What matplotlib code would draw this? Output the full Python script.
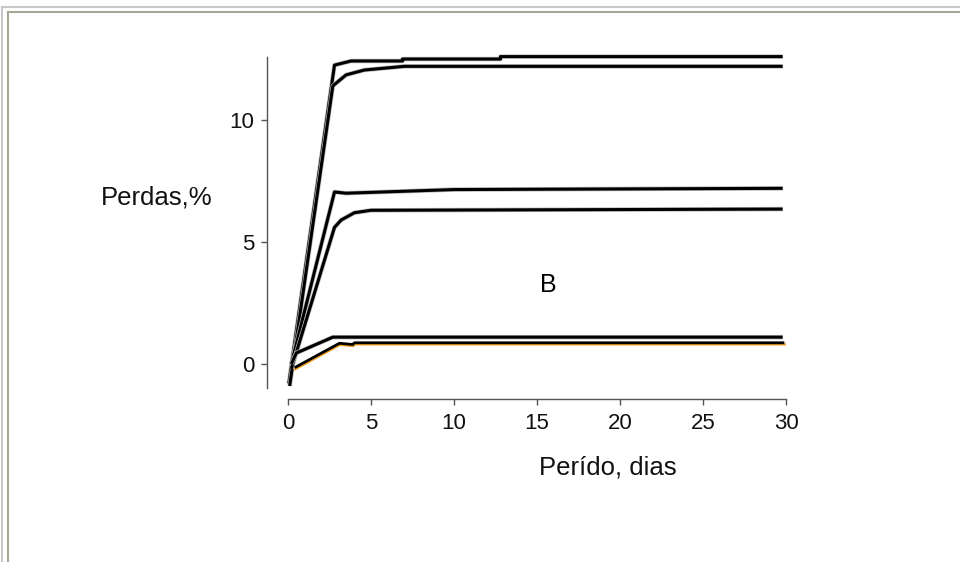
import matplotlib
matplotlib.use("Agg")
import matplotlib.pyplot as plt
import matplotlib.patheffects as pe
from matplotlib.transforms import offset_copy
from matplotlib.lines import Line2D

plt.rcParams['font.family'] = ['Liberation Sans', 'DejaVu Sans']

# curves (dias, perdas %)
x_a = [0.05, 2.8, 3.8, 6.9, 6.9, 12.8, 12.8, 29.8]
y_a = [-0.8, 12.25, 12.42, 12.42, 12.5, 12.5, 12.6, 12.6]

x_b = [0.1, 2.7, 3.5, 4.6, 7.0, 29.8]
y_b = [-0.9, 11.4, 11.85, 12.05, 12.2, 12.2]

x_c = [0.2, 2.8, 3.5, 10.0, 29.8]
y_c = [0.0, 7.05, 7.0, 7.15, 7.2]

x_d = [0.2, 2.8, 3.2, 4.0, 5.0, 29.8]
y_d = [-0.2, 5.6, 5.9, 6.2, 6.3, 6.35]

x_e = [0.2, 0.5, 2.7, 29.8]
y_e = [0.0, 0.45, 1.1, 1.1]

x_f = [0.4, 3.1, 3.9, 4.0, 29.9]
y_f = [-0.15, 0.85, 0.8, 0.87, 0.87]

xticks = [0, 5, 10, 15, 20, 25, 30]
yticks = [0, 5, 10]

fig = plt.figure(figsize=(9.6, 5.62), dpi=100)
ax = fig.add_axes([0.3, 0.3089, 0.51875, 0.5904])

halo = [pe.Stroke(linewidth=3.2, foreground='#b8b8b8'), pe.Normal()]
for xs, ys in [(x_a, y_a), (x_b, y_b), (x_c, y_c), (x_d, y_d), (x_e, y_e)]:
    ax.plot(xs, ys, color='black', lw=2.2, solid_capstyle='butt', path_effects=halo, clip_on=False)

# orange under-stroke of the lowest curve, shifted a pixel down
shift = offset_copy(ax.transData, fig=fig, x=0.5, y=-1.6, units='dots')
ax.plot(x_f, y_f, color='#f0a020', lw=1.6, transform=shift, clip_on=False)
ax.plot(x_f, y_f, color='black', lw=2.0, solid_capstyle='butt', clip_on=False)

ax.text(15.66, 3.24, "B", fontsize=18, ha='center', va='center')

ax.set_xlim(0, 30)
ax.set_ylim(-1, 12.6)
ax.set_xticks(xticks)
ax.set_yticks(yticks)
ax.tick_params(labelsize=16, colors='#555555', labelcolor='#111111', length=4, width=1)
ax.tick_params(axis='x', pad=6)
ax.tick_params(axis='y', pad=5)

for s in ['top', 'right']:
    ax.spines[s].set_visible(False)
ax.spines['left'].set_position(('outward', 15.1))
ax.spines['bottom'].set_position(('outward', 7.6))
ax.spines['bottom'].set_bounds(0, 30)
for s in ['left', 'bottom']:
    ax.spines[s].set_color('#555555')
    ax.spines[s].set_linewidth(1.0)

fig.text(101 / 960, 1 - 197 / 562, "Perdas,%", fontsize=18.5, ha='left', va='center', color='#111111')
fig.text(608 / 960, 1 - 467 / 562, "Perído, dias", fontsize=18.5, ha='center', va='center', color='#111111')

# window frame
fig.add_artist(Line2D([2 / 960, 2 / 960], [0, 1 - 7 / 562], color='#c8c8c8', lw=1.5, transform=fig.transFigure))
fig.add_artist(Line2D([2 / 960, 1], [1 - 7 / 562, 1 - 7 / 562], color='#c8c8c8', lw=1.5, transform=fig.transFigure))
fig.add_artist(Line2D([7.5 / 960, 7.5 / 960], [0, 1 - 12 / 562], color='#a8a696', lw=1.5, transform=fig.transFigure))
fig.add_artist(Line2D([7.5 / 960, 1], [1 - 12 / 562, 1 - 12 / 562], color='#a8a696', lw=1.5, transform=fig.transFigure))

fig.savefig("out.png", dpi=100)
